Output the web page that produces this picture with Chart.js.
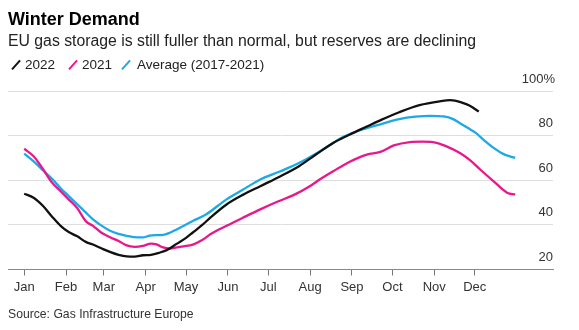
<!DOCTYPE html>
<html>
<head>
<meta charset="utf-8">
<script src="https://cdn.jsdelivr.net/npm/chart.js@4.4.1/dist/chart.umd.min.js"></script>
<style>
  html, body { margin: 0; padding: 0; background: #fff; }
  body { width: 579px; height: 330px; position: relative; overflow: hidden; font-family: "Liberation Sans", Arial, sans-serif; }
  #c { position: absolute; left: 0; top: 0; }
  .txt { position: absolute; white-space: nowrap; }
  #title { left: 8px; top: 9.8px; font-size: 18px; line-height: 18px; font-weight: bold; color: #000; }
  #subtitle { left: 8px; top: 33.4px; font-size: 15.8px; line-height: 15.8px; color: #222; }
  #source { left: 8px; top: 308px; font-size: 12.2px; line-height: 12.2px; color: #333; }
  .leg { position: absolute; top: 57.5px; font-size: 13.5px; line-height: 13.5px; color: #222; }
  .slash { position: absolute; top: 58.5px; width: 2.4px; height: 12px; transform: rotate(42deg); }
</style>
</head>
<body>
<canvas id="c" width="579" height="330"></canvas>
<div class="txt" id="title">Winter Demand</div>
<div class="txt" id="subtitle">EU gas storage is still fuller than normal, but reserves are declining</div>
<span class="slash" style="left:15px;background:#111;"></span><span class="leg" style="left:25px;">2022</span>
<span class="slash" style="left:71.5px;background:#e8188c;"></span><span class="leg" style="left:82px;">2021</span>
<span class="slash" style="left:125px;background:#1ca9e6;"></span><span class="leg" style="left:137px;">Average (2017-2021)</span>
<div class="txt" id="source">Source: Gas Infrastructure Europe</div>
<script>
// ---- Data (day of year, storage % full) ----
const monthLabels = ["Jan","Feb","Mar","Apr","May","Jun","Jul","Aug","Sep","Oct","Nov","Dec"];
const monthStartDays = [0,31,59,90,120,151,181,212,243,273,304,334];
const yTickValues = [20,40,60,80,100];

const days2022 = [0,7,14,21,27,33,39,46,51,58,64,70,76,82,88,94,100,106,113,120,125,132,138,150,162,175,190,204,216,229,241,254,265,278,293,308,316,325,330,337];
const vals2022 = [54.0,52.2,48.5,43.5,39.6,36.8,35.0,32.3,31.2,29.3,27.8,26.6,25.9,25.8,26.4,26.6,27.5,28.8,31.5,34.2,36.6,40.0,43.3,49.2,53.5,57.4,61.9,66.5,71.5,76.8,80.5,84.2,87.3,90.6,93.8,95.5,96.0,94.8,93.6,90.9];

const days2021 = [0,7,14,20,27,33,39,46,51,57,64,70,76,82,88,94,98,103,108,113,118,125,132,138,150,162,175,188,200,212,219,229,241,254,264,274,286,295,303,313,323,330,338,348,358,364];
const vals2021 = [74.2,70.8,65.0,59.5,55.2,51.5,47.8,41.5,39.6,36.6,34.4,32.8,30.8,30.2,30.6,31.6,31.3,29.9,29.4,29.9,30.4,31.2,33.2,35.8,39.6,43.2,47.0,50.5,53.5,57.5,60.4,64.1,68.3,71.6,72.8,75.7,77.2,77.4,77.2,75.3,72.3,69.3,64.9,59.6,54.5,53.7];

const daysAvg = [0,7,14,21,27,33,39,45,51,57,64,70,76,84,88,93,98,103,108,113,125,135,150,162,175,190,204,219,229,237,254,264,278,290,301,311,318,323,329,335,341,348,355,360,364];
const valsAvg = [72.0,68.5,64.5,60.5,56.5,53.0,49.5,46.0,42.5,39.8,37.3,36.0,35.1,34.4,34.4,35.2,35.4,35.5,36.5,38.0,41.8,44.8,51.5,55.8,60.4,64.1,67.9,73.0,76.8,79.7,83.5,85.2,87.5,88.6,89.0,88.7,87.5,85.7,83.5,81.2,78.0,74.6,71.9,70.8,70.1];

const toXY = (xs, ys) => xs.map((x, i) => ({ x: x, y: ys[i] }));

const yLabelPlugin = {
  id: 'yLabels',
  afterDraw(chart) {
    const ctx = chart.ctx, ys = chart.scales.y, area = chart.chartArea;
    ctx.save();
    ctx.font = '13px "Liberation Sans", Arial, sans-serif';
    ctx.fillStyle = '#333';
    ctx.textAlign = 'right';
    ctx.textBaseline = 'alphabetic';
    yTickValues.forEach(v => {
      const py = ys.getPixelForValue(v);
      const label = v === 100 ? '100%' : String(v);
      ctx.fillText(label, area.right + (v === 100 ? 2 : 0), py - 8.5);
    });
    ctx.restore();
  }
};

const lineDs = (label, data, color) => ({
  label, data, borderColor: color, borderWidth: 2.3, pointRadius: 0,
  fill: false, cubicInterpolationMode: 'monotone'
});

new Chart(document.getElementById('c'), {
  type: 'line',
  data: {
    datasets: [
      lineDs('2022', toXY(days2022, vals2022), '#111111'),
      lineDs('2021', toXY(days2021, vals2021), '#e8188c'),
      lineDs('Average (2017-2021)', toXY(daysAvg, valsAvg), '#1ca9e6')
    ]
  },
  options: {
    responsive: false,
    animation: false,
    events: [],
    layout: { padding: { left: 8, right: 26, top: 91.3, bottom: 30.5 } },
    plugins: { legend: { display: false }, tooltip: { enabled: false } },
    scales: {
      x: {
        type: 'linear',
        min: -12, max: 392,
        afterBuildTicks: (s) => { s.ticks = monthStartDays.map(v => ({ value: v })); },
        afterFit: (s) => { s.height = 30; },
        ticks: {
          autoSkip: false, maxRotation: 0, padding: 4,
          color: '#333', font: { size: 13, family: '"Liberation Sans", Arial, sans-serif' },
          callback: (v) => { const i = monthStartDays.indexOf(v); return i >= 0 ? monthLabels[i] : ''; }
        },
        grid: { drawOnChartArea: false, drawTicks: true, tickLength: 6, tickColor: '#777', tickWidth: 1 },
        border: { display: true, color: '#888', width: 1 }
      },
      y: {
        min: 20, max: 100,
        afterBuildTicks: (s) => { s.ticks = yTickValues.map(v => ({ value: v })); },
        afterFit: (s) => { s.width = 0; },
        ticks: { display: false },
        grid: { color: '#dedede', lineWidth: 1, drawTicks: false },
        border: { display: false }
      }
    }
  },
  plugins: [yLabelPlugin]
});
</script>
</body>
</html>
